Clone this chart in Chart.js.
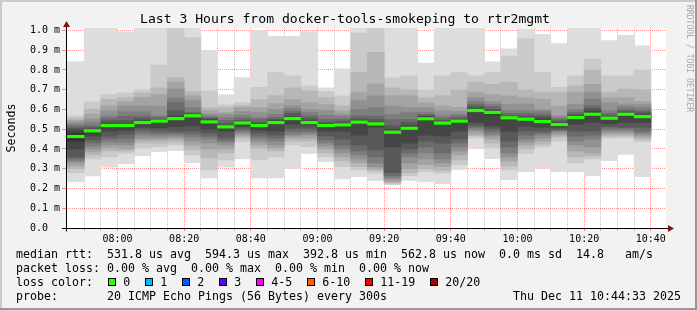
<!DOCTYPE html>
<html><head><meta charset="utf-8">
<script src="https://cdn.jsdelivr.net/npm/chart.js@4.4.1/dist/chart.umd.min.js"></script>
<style>html,body{margin:0;padding:0;background:#f2f2f2;}canvas{display:block;}</style>
</head><body>
<canvas id="c" width="697" height="310"></canvas>
<script>
// ---------- data (milliseconds) ----------
const binStarts = ["07:45","07:50","07:55","08:00","08:05","08:10","08:15","08:20","08:25","08:30","08:35","08:40",
  "08:45","08:50","08:55","09:00","09:05","09:10","09:15","09:20","09:25","09:30","09:35","09:40",
  "09:45","09:50","09:55","10:00","10:05","10:10","10:15","10:20","10:25","10:30","10:35"];
const medianRtt = [0.463,0.492,0.519,0.519,0.534,0.541,0.554,0.568,0.537,0.512,0.532,0.519,
  0.534,0.554,0.534,0.519,0.522,0.536,0.527,0.485,0.505,0.553,0.531,0.541,
  0.595,0.585,0.558,0.551,0.539,0.524,0.559,0.576,0.556,0.576,0.564];
// 20 sorted ping RTTs per 5-minute bin
const pings = [
 [0.235,0.28,0.30,0.315,0.33,0.34,0.35,0.36,0.40,0.44,0.48,0.495,0.505,0.515,0.525,0.535,0.545,0.555,0.568,0.843],
 [0.264,0.35,0.37,0.385,0.40,0.415,0.43,0.445,0.465,0.485,0.495,0.50,0.508,0.517,0.534,0.551,0.577,0.602,0.639,1.02],
 [0.308,0.36,0.39,0.405,0.42,0.435,0.45,0.465,0.49,0.515,0.522,0.53,0.542,0.555,0.568,0.593,0.618,0.652,0.675,1.02],
 [0.326,0.378,0.39,0.40,0.42,0.435,0.455,0.475,0.495,0.515,0.522,0.53,0.545,0.565,0.59,0.618,0.64,0.66,0.684,0.993],
 [0.366,0.404,0.43,0.445,0.455,0.47,0.485,0.50,0.51,0.53,0.538,0.545,0.555,0.567,0.59,0.618,0.66,0.684,0.70,1.02],
 [0.387,0.412,0.43,0.445,0.456,0.47,0.48,0.495,0.507,0.535,0.545,0.548,0.551,0.56,0.568,0.618,0.675,0.71,0.825,1.02],
 [0.392,0.42,0.435,0.45,0.46,0.47,0.48,0.49,0.513,0.55,0.558,0.568,0.593,0.635,0.66,0.703,0.737,0.762,1.03,1.05],
 [0.331,0.37,0.395,0.42,0.44,0.46,0.475,0.49,0.517,0.565,0.571,0.575,0.58,0.585,0.61,0.645,0.67,0.69,0.964,1.02],
 [0.253,0.294,0.355,0.40,0.43,0.45,0.465,0.48,0.50,0.53,0.54,0.548,0.555,0.56,0.568,0.578,0.595,0.61,0.694,0.899],
 [0.308,0.345,0.38,0.40,0.42,0.435,0.445,0.46,0.49,0.508,0.515,0.52,0.53,0.545,0.56,0.575,0.585,0.61,0.623,0.674],
 [0.35,0.437,0.455,0.465,0.475,0.485,0.495,0.505,0.515,0.528,0.536,0.54,0.545,0.555,0.57,0.59,0.61,0.62,0.635,0.762],
 [0.253,0.345,0.404,0.42,0.435,0.45,0.465,0.48,0.495,0.515,0.522,0.53,0.535,0.55,0.56,0.585,0.61,0.65,0.712,1.0],
 [0.253,0.36,0.39,0.405,0.42,0.44,0.455,0.47,0.49,0.528,0.54,0.545,0.55,0.56,0.575,0.60,0.63,0.67,0.787,0.97],
 [0.301,0.42,0.44,0.455,0.465,0.475,0.49,0.505,0.525,0.55,0.558,0.565,0.58,0.59,0.605,0.62,0.65,0.71,0.77,0.97],
 [0.377,0.412,0.44,0.455,0.47,0.48,0.49,0.505,0.52,0.53,0.538,0.544,0.555,0.568,0.585,0.60,0.635,0.695,0.72,0.995],
 [0.336,0.361,0.38,0.40,0.415,0.43,0.445,0.466,0.49,0.515,0.522,0.53,0.534,0.55,0.57,0.595,0.625,0.66,0.69,0.71],
 [0.248,0.31,0.34,0.36,0.38,0.40,0.42,0.45,0.49,0.515,0.525,0.53,0.54,0.551,0.565,0.576,0.593,0.618,0.669,0.806],
 [0.26,0.294,0.31,0.33,0.35,0.37,0.39,0.42,0.47,0.53,0.54,0.545,0.555,0.568,0.60,0.645,0.686,0.787,0.987,1.02],
 [0.24,0.277,0.29,0.30,0.31,0.33,0.36,0.395,0.51,0.523,0.53,0.534,0.55,0.568,0.61,0.669,0.73,0.889,1.03,1.05],
 [0.218,0.222,0.228,0.235,0.245,0.255,0.265,0.28,0.41,0.48,0.49,0.50,0.517,0.55,0.575,0.618,0.67,0.71,0.76,1.02],
 [0.24,0.265,0.28,0.30,0.33,0.36,0.38,0.40,0.43,0.50,0.51,0.52,0.535,0.55,0.585,0.61,0.67,0.70,0.77,1.02],
 [0.235,0.285,0.30,0.32,0.35,0.38,0.41,0.44,0.47,0.545,0.56,0.565,0.568,0.575,0.585,0.61,0.635,0.66,0.70,0.835],
 [0.225,0.277,0.29,0.31,0.33,0.35,0.38,0.43,0.466,0.525,0.535,0.537,0.545,0.555,0.568,0.593,0.618,0.67,0.77,1.02],
 [0.297,0.32,0.345,0.37,0.39,0.41,0.43,0.45,0.49,0.535,0.545,0.55,0.555,0.565,0.575,0.59,0.61,0.70,0.787,1.02],
 [0.404,0.456,0.466,0.475,0.49,0.50,0.51,0.52,0.534,0.59,0.60,0.605,0.615,0.627,0.64,0.66,0.686,0.737,0.77,1.02],
 [0.351,0.405,0.43,0.45,0.465,0.475,0.49,0.505,0.517,0.575,0.59,0.595,0.60,0.615,0.625,0.64,0.675,0.727,0.787,0.841],
 [0.245,0.294,0.314,0.34,0.36,0.38,0.41,0.44,0.49,0.555,0.56,0.565,0.568,0.58,0.593,0.627,0.669,0.737,0.87,0.907],
 [0.285,0.378,0.40,0.42,0.435,0.45,0.47,0.49,0.515,0.545,0.555,0.56,0.568,0.58,0.593,0.627,0.66,0.70,0.958,1.007],
 [0.303,0.41,0.425,0.44,0.455,0.47,0.48,0.49,0.51,0.532,0.545,0.555,0.565,0.576,0.59,0.60,0.652,0.686,0.787,0.98],
 [0.285,0.44,0.46,0.47,0.48,0.49,0.495,0.50,0.51,0.52,0.528,0.535,0.541,0.55,0.56,0.568,0.618,0.686,0.712,0.934],
 [0.285,0.33,0.36,0.39,0.42,0.44,0.466,0.49,0.525,0.552,0.565,0.568,0.575,0.585,0.60,0.627,0.686,0.72,0.77,1.02],
 [0.265,0.35,0.365,0.38,0.41,0.45,0.47,0.49,0.534,0.57,0.582,0.593,0.605,0.618,0.652,0.686,0.727,0.80,0.855,1.02],
 [0.341,0.456,0.465,0.475,0.485,0.495,0.505,0.515,0.528,0.55,0.56,0.565,0.568,0.58,0.593,0.635,0.66,0.686,0.77,0.949],
 [0.372,0.456,0.466,0.475,0.485,0.495,0.505,0.51,0.535,0.57,0.58,0.585,0.59,0.60,0.615,0.627,0.66,0.703,0.77,0.975],
 [0.26,0.437,0.45,0.46,0.47,0.48,0.49,0.51,0.534,0.56,0.568,0.575,0.585,0.595,0.61,0.625,0.64,0.70,0.80,0.922]
];
const yTickValues = [0.0,0.1,0.2,0.3,0.4,0.5,0.6,0.7,0.8,0.9,1.0];
const yTickLabels = ["0.0  ","0.1 m","0.2 m","0.3 m","0.4 m","0.5 m","0.6 m","0.7 m","0.8 m","0.9 m","1.0 m"];
const xTickLabels = ["08:00","08:20","08:40","09:00","09:20","09:40","10:00","10:20","10:40"];
const viewStart = "07:44:33", viewEnd = "10:44:33";
const lossLabels = ["0","1","2","3","4-5","6-10","11-19","20/20"];
const lossColors = ["#26ff00","#00b8ff","#0059ff","#5e00ff","#ff00ff","#ff5e00","#ff0000","#a10000"];
const titleText = "Last 3 Hours from docker-tools-smokeping to rtr2mgmt";
const statRtt = "median rtt:  531.8 us avg  594.3 us max  392.8 us min  562.8 us now  0.0 ms sd  14.8   am/s";
const statLoss = "packet loss: 0.00 % avg  0.00 % max  0.00 % min  0.00 % now";
const probeText = "20 ICMP Echo Pings (56 Bytes) every 300s";
const stampText = "Thu Dec 11 10:44:33 2025";

// ---------- helpers / styles ----------
const toMin = s => { const p = s.split(':').map(Number); return p[0]*60 + p[1] + (p[2]||0)/60; };
const BIN = 5;
const MONO = "'DejaVu Sans Mono', monospace";
const MEDIAN_HALF = 0.0065;
const centers = binStarts.map(s => toMin(s) + BIN/2);
const majorMins = xTickLabels.map(toMin);
const RED = 'rgba(255,0,0,0.42)', GRAY = 'rgba(140,140,140,0.55)';

const datasets = [];
const HALF = pings[0].length / 2;
for (let k = 1; k <= HALF; k++) {
  const c = Math.floor(190 / HALF * (HALF - k)) + 50;
  datasets.push({
    type: 'bar',
    data: centers.map((x, i) => ({ x, y: [pings[i][k-1], pings[i][pings[i].length - k]] })),
    backgroundColor: `rgb(${c},${c},${c})`,
    order: HALF + 1 - k
  });
}
datasets.push({
  type: 'bar',
  data: centers.map((x, i) => ({ x, y: [medianRtt[i] - MEDIAN_HALF, medianRtt[i] + MEDIAN_HALF] })),
  backgroundColor: lossColors[0],
  order: 0
});
datasets.forEach(d => Object.assign(d, { grouped: false, barPercentage: 1, categoryPercentage: 1, borderWidth: 0 }));

const deco = {
  id: 'deco',
  beforeDraw(chart) {
    const ctx = chart.ctx, a = chart.chartArea, W = chart.width, H = chart.height;
    ctx.save();
    ctx.fillStyle = '#f2f2f2'; ctx.fillRect(0, 0, W, H);
    ctx.fillStyle = '#cbcbcb'; ctx.fillRect(0, 0, W, 2); ctx.fillRect(0, 0, 2, H);
    ctx.fillStyle = '#999999'; ctx.fillRect(0, H-2, W, 2); ctx.fillRect(W-2, 0, 2, H);
    ctx.fillStyle = '#ffffff'; ctx.fillRect(a.left, a.top, a.right - a.left, a.bottom - a.top);
    ctx.restore();
  },
  afterDraw(chart) {
    const ctx = chart.ctx, a = chart.chartArea;
    const y0 = Math.round(chart.scales.y.getPixelForValue(0)) + 0.5;
    const xl = Math.round(a.left) + 0.5;
    ctx.save();
    // axes
    ctx.strokeStyle = '#000'; ctx.lineWidth = 1;
    ctx.beginPath(); ctx.moveTo(a.left - 4, y0); ctx.lineTo(a.right + 3, y0); ctx.stroke();
    ctx.beginPath(); ctx.moveTo(xl, y0 + 3); ctx.lineTo(xl, a.top - 2); ctx.stroke();
    ctx.fillStyle = '#7f1515';
    ctx.beginPath(); ctx.moveTo(a.right + 2, y0 - 3.5); ctx.lineTo(a.right + 8, y0); ctx.lineTo(a.right + 2, y0 + 3.5); ctx.closePath(); ctx.fill();
    ctx.beginPath(); ctx.moveTo(xl - 3.5, a.top - 1); ctx.lineTo(xl, a.top - 7); ctx.lineTo(xl + 3.5, a.top - 1); ctx.closePath(); ctx.fill();
    // title
    ctx.fillStyle = '#000'; ctx.textBaseline = 'alphabetic'; ctx.textAlign = 'left';
    ctx.font = `13.1px ${MONO}`;
    ctx.fillText(titleText, 140, 23);
    // unit label
    ctx.font = `11.63px ${MONO}`;
    ctx.save(); ctx.translate(15, 128); ctx.rotate(-Math.PI/2); ctx.textAlign = 'center';
    ctx.fillText('Seconds', 0, 0); ctx.restore();
    // legend
    ctx.fillText(statRtt, 16, 258);
    ctx.fillText(statLoss, 16, 272);
    ctx.fillText('loss color:', 16, 286);
    const boxX = [108,145,182,219,256,307,365,430];
    lossLabels.forEach((lab, i) => {
      ctx.fillStyle = lossColors[i]; ctx.fillRect(boxX[i], 278, 8, 8);
      ctx.strokeStyle = '#000'; ctx.strokeRect(boxX[i] + 0.5, 278.5, 7, 7);
      ctx.fillStyle = '#000'; ctx.fillText(lab, boxX[i] + 15.3, 286);
    });
    ctx.fillText('probe:', 16, 300);
    ctx.fillText(probeText, 107, 300);
    ctx.textAlign = 'right'; ctx.fillText(stampText, 681, 300);
    // watermark
    ctx.fillStyle = '#a8a8a8'; ctx.font = `8.1px ${MONO}`; ctx.textAlign = 'left'; ctx.textBaseline = 'middle';
    ctx.save(); ctx.translate(689, 5); ctx.rotate(Math.PI/2); ctx.fillText('RRDTOOL / TOBI OETIKER', 0, 0); ctx.restore();
    ctx.restore();
  }
};

Chart.defaults.font.family = MONO;
new Chart(document.getElementById('c'), {
  type: 'bar',
  data: { datasets },
  plugins: [deco],
  options: {
    responsive: false, animation: false, devicePixelRatio: 1,
    layout: { padding: { left: 0, top: 28, right: 31, bottom: 0 } },
    plugins: { legend: { display: false }, title: { display: false }, tooltip: { enabled: false } },
    scales: {
      x: {
        type: 'linear', min: toMin(viewStart), max: toMin(viewEnd), offset: false, z: 1,
        afterFit(s) { s.height = 82; },
        afterBuildTicks(s) {
          const vals = new Set(binStarts.slice(1).map(toMin).concat(majorMins));
          s.ticks = [...vals].sort((p, q) => p - q).map(v => ({ value: v }));
        },
        ticks: {
          autoSkip: false, maxRotation: 0, minRotation: 0, padding: 2, color: '#000',
          font: { family: MONO, size: 10 },
          callback: v => { const i = majorMins.indexOf(v); return i >= 0 ? xTickLabels[i] : ''; }
        },
        grid: {
          offset: false, drawTicks: true, tickLength: 3, lineWidth: 1,
          color: c => majorMins.includes(c.tick && c.tick.value) ? RED : GRAY,
          tickColor: c => majorMins.includes(c.tick && c.tick.value) ? RED : GRAY
        },
        border: { display: false, dash: [1, 1] }
      },
      y: {
        type: 'linear', min: 0, max: 1.0125, z: 1,
        afterFit(s) { s.width = 66; },
        afterBuildTicks(s) { s.ticks = yTickValues.map(v => ({ value: v })); },
        ticks: {
          autoSkip: false, padding: 2, color: '#000', font: { family: MONO, size: 10 },
          callback: (v, i) => yTickLabels[i]
        },
        grid: {
          drawTicks: true, tickLength: 4, lineWidth: 1,
          color: c => (c.tick && c.tick.value > 0) ? RED : 'rgba(0,0,0,0)',
          tickColor: c => (c.tick && c.tick.value > 0) ? RED : 'rgba(0,0,0,0)'
        },
        border: { display: false, dash: [1, 1] }
      }
    }
  }
});
</script>
</body></html>
